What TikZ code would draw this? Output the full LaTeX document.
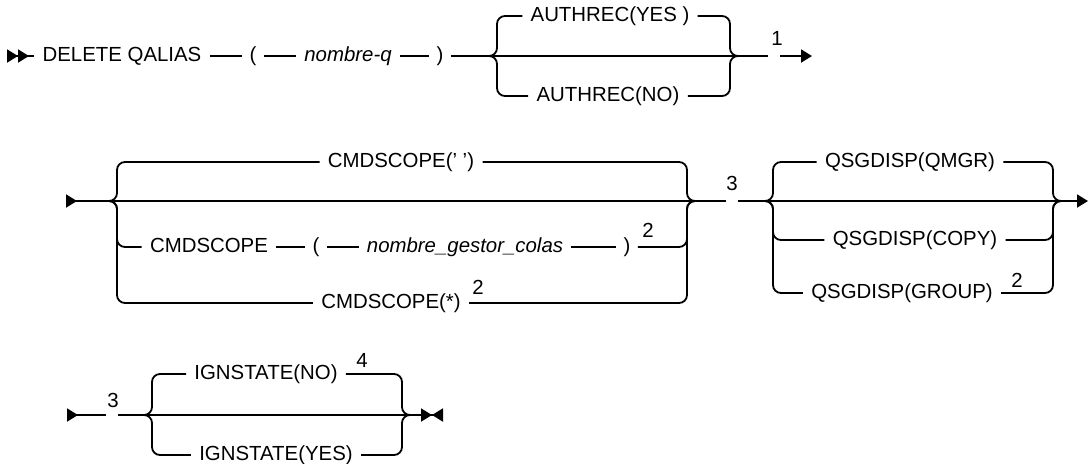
\documentclass[tikz,border=0pt]{standalone}
\usepackage{fontspec}
\setmainfont{Liberation Sans}
\usetikzlibrary{arrows.meta}

\begin{document}
\begin{tikzpicture}[
    x=0.5pt, y=-0.5pt,
    kw/.style={anchor=mid, inner xsep=4pt, inner ysep=1pt, font=\fontsize{10.2}{12}\selectfont},
    var/.style={kw, font=\fontsize{10.2}{12}\selectfont\itshape},
    sym/.style={kw, inner xsep=3.5pt},
    note/.style={inner sep=0pt, font=\fontsize{10.2}{12}\selectfont},
    gap/.style={inner sep=0pt, minimum width=5.5pt, minimum height=0pt},
    line/.style={line width=0.9pt},
    brace/.style={line, rounded corners=4pt}
]
    \useasboundingbox (0,0) rectangle (1089,463);

    % Row 1
    \coordinate (start1) at (7,56);
    \node[kw] (del) at (122,56) {DELETE QALIAS};
    \node[sym] (lp1) at (253,56) {(};
    \node[var] (nq) at (348,56) {nombre-q};
    \node[sym] (rp1) at (440,56) {)};
    \coordinate (bl1) at (497,56);
    \node[kw] (yes) at (610,16) {AUTHREC(YES )};
    \node[kw] (no) at (608,96) {AUTHREC(NO)};
    \coordinate (br1) at (730,56);
    \node[gap] (g1) at (774,56) {};
    \node[note] (n1) at (777,38) {1};
    \coordinate (end1) at (812,56);

    \draw[line, {Triangle[length=5.5pt, width=6.5pt, reversed]Triangle[length=5.5pt, width=6.5pt, reversed]}-] (start1) -- (del.mid west);
    \draw[line] (del.mid east) -- (lp1.mid west);
    \draw[line] (lp1.mid east) -- (nq.mid west);
    \draw[line] (nq.mid east) -- (rp1.mid west);
    \draw[line] (rp1.mid east) -- (bl1) -- (br1) -- (g1.west);
    \draw[line, -{Triangle[length=5.5pt, width=6.5pt]}] (g1.east) -- (end1);
    \draw[brace] (yes.mid west) -| (bl1) -- ([xshift=-4pt]bl1);
    \draw[brace] (no.mid west) -| (bl1) -- ([xshift=-4pt]bl1);
    \draw[brace] (yes.mid east) -| (br1) -- ([xshift=4pt]br1);
    \draw[brace] (no.mid east) -| (br1) -- ([xshift=4pt]br1);

    % Row 2
    \coordinate (start2) at (66,201);
    \coordinate (bl2) at (117,201);
    \node[kw] (cs1) at (401,162) {CMDSCOPE(' ')};
    \node[kw] (cs2) at (209,247) {CMDSCOPE};
    \node[sym] (lp2) at (316,247) {(};
    \node[var] (ngc) at (465,247) {nombre\_gestor\_colas};
    \node[sym] (rp2) at (627,247) {)};
    \node[note] (n2a) at (648,230) {2};
    \node[kw] (cs3) at (391,303) {CMDSCOPE(*)};
    \node[note] (n2b) at (478,287) {2};
    \coordinate (br2) at (687,201);
    \node[gap] (g3a) at (732,201) {};
    \node[note] (n3a) at (732,183) {3};
    \coordinate (bl3) at (773,201);
    \node[kw] (qm) at (910,162) {QSGDISP(QMGR)};
    \node[kw] (qc) at (915,240) {QSGDISP(COPY)};
    \node[kw] (qg) at (902,293) {QSGDISP(GROUP)};
    \node[note] (n2c) at (1017,280) {2};
    \coordinate (br3) at (1053,201);
    \coordinate (end2) at (1088,201);

    \draw[line, {Triangle[length=5.5pt, width=6.5pt, reversed]}-] (start2) -- (bl2) -- (br2) -- (g3a.west);
    \draw[line] (g3a.east) -- (bl3) -- (br3);
    \draw[line, -{Triangle[length=5.5pt, width=6.5pt]}] (br3) -- (end2);
    \draw[line] (cs2.mid east) -- (lp2.mid west);
    \draw[line] (lp2.mid east) -- (ngc.mid west);
    \draw[line] (ngc.mid east) -- (rp2.mid west);
    \draw[brace] (cs1.mid west) -| (bl2) -- ([xshift=-4pt]bl2);
    \draw[brace] (cs2.mid west) -| (bl2) -- ([xshift=-4pt]bl2);
    \draw[brace] (cs3.mid west) -| (bl2) -- ([xshift=-4pt]bl2);
    \draw[brace] (cs1.mid east) -| (br2) -- ([xshift=4pt]br2);
    \draw[brace] (rp2.mid east) -| (br2) -- ([xshift=4pt]br2);
    \draw[brace] (cs3.mid east) -| (br2) -- ([xshift=4pt]br2);
    \draw[brace] (qm.mid west) -| (bl3) -- ([xshift=-4pt]bl3);
    \draw[brace] (qc.mid west) -| (bl3) -- ([xshift=-4pt]bl3);
    \draw[brace] (qg.mid west) -| (bl3) -- ([xshift=-4pt]bl3);
    \draw[brace] (qm.mid east) -| (br3) -- ([xshift=4pt]br3);
    \draw[brace] (qc.mid east) -| (br3) -- ([xshift=4pt]br3);
    \draw[brace] (qg.mid east) -| (br3) -- ([xshift=4pt]br3);

    % Row 3
    \coordinate (start3) at (67,415);
    \node[gap] (g3b) at (112,415) {};
    \node[note] (n3b) at (113,400) {3};
    \coordinate (bl4) at (152,415);
    \node[kw] (ino) at (266,374) {IGNSTATE(NO)};
    \node[note] (n4) at (362,360) {4};
    \node[kw] (iyes) at (276,455) {IGNSTATE(YES)};
    \coordinate (br4) at (402,415);
    \coordinate (end3) at (443,415);

    \draw[line, {Triangle[length=5.5pt, width=6.5pt, reversed]}-] (start3) -- (g3b.west);
    \draw[line, -{Triangle[length=5.5pt, width=6.5pt]Triangle[length=5.5pt, width=6.5pt, reversed]}] (g3b.east) -- (bl4) -- (br4) -- (end3);
    \draw[brace] (ino.mid west) -| (bl4) -- ([xshift=-4pt]bl4);
    \draw[brace] (iyes.mid west) -| (bl4) -- ([xshift=-4pt]bl4);
    \draw[brace] (ino.mid east) -| (br4) -- ([xshift=4pt]br4);
    \draw[brace] (iyes.mid east) -| (br4) -- ([xshift=4pt]br4);

\end{tikzpicture}
\end{document}
